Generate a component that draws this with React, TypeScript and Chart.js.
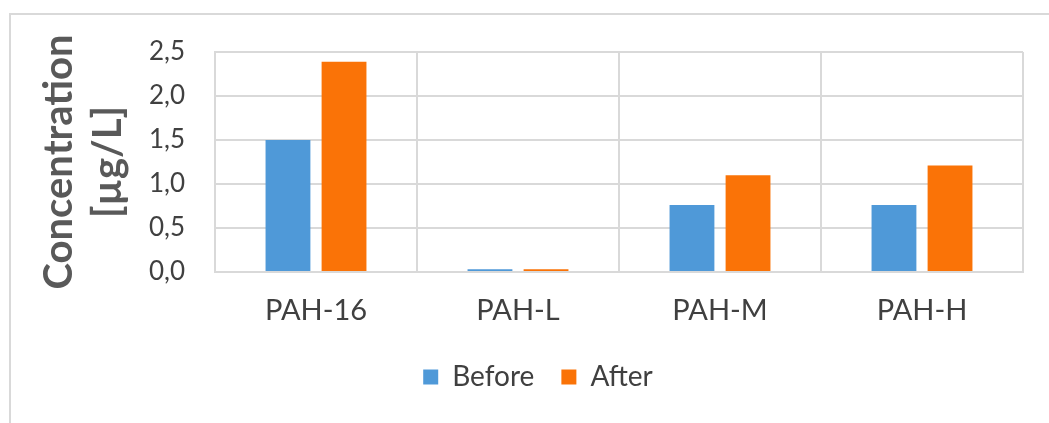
import React, { useEffect, useRef } from "react";
import { Chart, registerables } from "chart.js";

Chart.register(...registerables);

const categories = ["PAH-16", "PAH-L", "PAH-M", "PAH-H"];
const beforeValues = [1.5, 0.03, 0.76, 0.76];
const afterValues = [2.39, 0.03, 1.1, 1.21];
const seriesNames = ["Before", "After"];
const yTitle = ["Concentration", "[µg/L]"];

export default function App() {
  const ref = useRef<HTMLCanvasElement | null>(null);

  useEffect(() => {
    document.body.style.margin = "0";
    const canvas = ref.current;
    if (!canvas) return;
    const chart = new Chart(canvas, {
      type: "bar",
      data: {
        labels: categories,
        datasets: [
          {
            label: seriesNames[0],
            data: beforeValues,
            backgroundColor: "#4f99d8",
            categoryPercentage: 0.555,
            barPercentage: 0.8,
          },
          {
            label: seriesNames[1],
            data: afterValues,
            backgroundColor: "#fa7307",
            categoryPercentage: 0.555,
            barPercentage: 0.8,
          },
        ],
      },
      options: {
        responsive: false,
        animation: false,
        layout: { padding: { left: 53, right: 26, top: 52, bottom: 22 } },
        plugins: {
          tooltip: { enabled: false },
          legend: {
            position: "bottom",
            labels: {
              boxWidth: 15,
              boxHeight: 15,
              padding: 27,
              color: "#404040",
              font: { family: "Lato", size: 28 },
            },
          },
        },
        scales: {
          x: {
            grid: { color: "#d9d9d9", lineWidth: 2, drawTicks: false },
            border: { color: "#d9d9d9", width: 2 },
            ticks: {
              color: "#404040",
              padding: 21,
              font: { family: "Lato", size: 29 },
            },
            afterFit: (s: any) => {
              s.height = 64;
            },
          },
          y: {
            min: 0,
            max: 2.5,
            grid: { color: "#d9d9d9", lineWidth: 2, drawTicks: false },
            border: { color: "#d9d9d9", width: 2 },
            ticks: {
              stepSize: 0.5,
              color: "#404040",
              padding: 30,
              font: { family: "Lato", size: 26 },
              callback: (v: any) => Number(v).toFixed(1).replace(".", ","),
            },
            title: {
              display: true,
              text: yTitle,
              color: "#595959",
              padding: { top: -18, bottom: 0 },
              font: { family: "Lato", size: 40, weight: "bold", lineHeight: 1.22 },
            },
            afterFit: (s: any) => {
              s.width = 162;
            },
          },
        },
      },
    });
    return () => chart.destroy();
  }, []);

  return (
    <div style={{ position: "fixed", left: 0, top: 0, width: 1049, height: 423, background: "#fff" }}>
      <div
        style={{
          position: "absolute",
          left: 9,
          top: 13,
          width: 1060,
          height: 420,
          borderTop: "2px solid #d9d9d9",
          borderLeft: "2px solid #d9d9d9",
        }}
      />
      <canvas ref={ref} width={1049} height={423} style={{ position: "absolute", left: 0, top: 0 }} />
    </div>
  );
}
